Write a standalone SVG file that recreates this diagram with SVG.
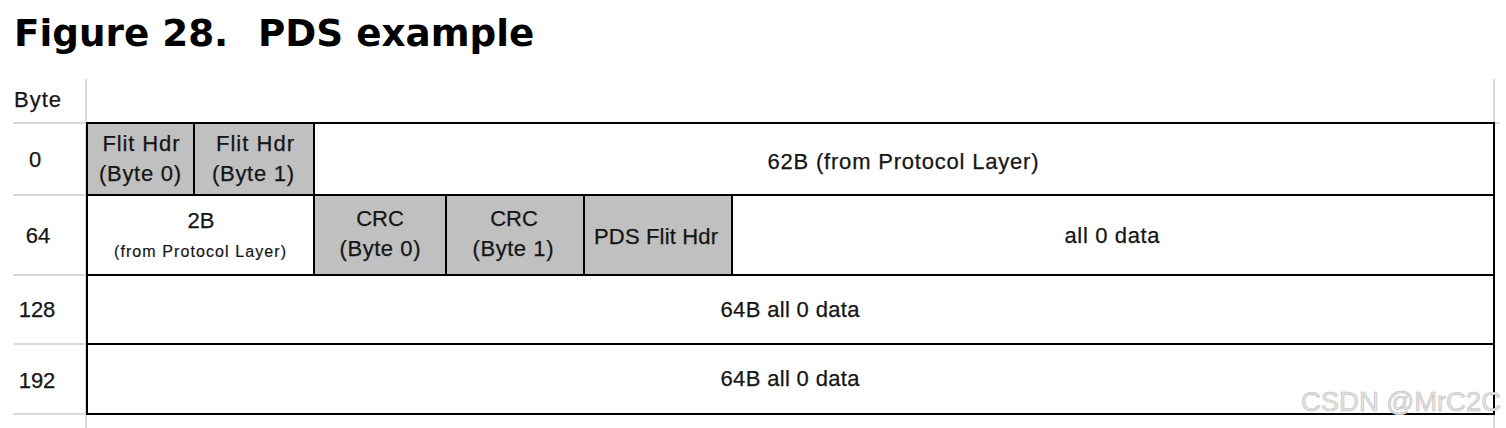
<svg xmlns="http://www.w3.org/2000/svg" width="1506" height="428" viewBox="0 0 1506 428">
<style>
.title{font-family:"DejaVu Sans",Verdana,sans-serif;font-weight:bold;font-size:37.3px;fill:#000}
.t{font-family:"Liberation Sans",Arial,sans-serif;font-size:22px;fill:#151515;stroke:#151515;stroke-width:0.25;text-anchor:middle}
.s{font-family:"Liberation Sans",Arial,sans-serif;font-size:16px;fill:#151515;stroke:#151515;stroke-width:0.2;text-anchor:middle}
.lbl{font-family:"Liberation Sans",Arial,sans-serif;font-size:22px;fill:#151515;stroke:#151515;stroke-width:0.25}
.guide{stroke:#d9d9d9;stroke-width:2;fill:none}
.cell{stroke:#000;stroke-width:2}
.g{fill:#c0c0c0}
.w{fill:#fff}
.wm{font-family:"Liberation Sans",Arial,sans-serif;font-size:27.5px;fill:#e4e4e4;stroke:#bcbcbc;stroke-width:0.6}
</style>
<rect width="1506" height="428" fill="#fff"/>
<text class="title" x="14" y="46">Figure 28.</text>
<text class="title" x="258" y="46">PDS example</text>

<g id="guides">
<path class="guide" d="M86 79V428M1494 79V123M1494 414V428M13 123H86M13 195H86M13 275H86M13 344H86M13 414H86M1494 123H1500"/>
</g>

<g id="labels">
<text class="lbl" x="14" y="107" textLength="47">Byte</text>
<text class="lbl" x="35" y="167" text-anchor="middle">0</text>
<text class="lbl" x="38" y="243" text-anchor="middle">64</text>
<text class="lbl" x="37" y="317" text-anchor="middle">128</text>
<text class="lbl" x="37" y="388" text-anchor="middle">192</text>
</g>

<g id="flit-hdr-0">
<rect class="cell g" x="87" y="123" width="107" height="72"/>
<text class="t" x="141" y="151" textLength="77">Flit Hdr</text>
<text class="t" x="140" y="181" textLength="82">(Byte 0)</text>
</g>
<g id="flit-hdr-1">
<rect class="cell g" x="194" y="123" width="120" height="72"/>
<text class="t" x="255" y="151" textLength="78">Flit Hdr</text>
<text class="t" x="253" y="181" textLength="82">(Byte 1)</text>
</g>
<g id="protocol-62b">
<rect class="cell w" x="314" y="123" width="1180" height="72"/>
<text class="t" x="903" y="169" textLength="271">62B (from Protocol Layer)</text>
</g>

<g id="protocol-2b">
<rect class="cell w" x="87" y="195" width="227" height="80"/>
<text class="t" x="201" y="228">2B</text>
<text class="s" x="200" y="257" textLength="172">(from Protocol Layer)</text>
</g>
<g id="crc-0">
<rect class="cell g" x="314" y="195" width="132" height="80"/>
<text class="t" x="380" y="226">CRC</text>
<text class="t" x="380" y="256" textLength="81">(Byte 0)</text>
</g>
<g id="crc-1">
<rect class="cell g" x="446" y="195" width="138" height="80"/>
<text class="t" x="514" y="226">CRC</text>
<text class="t" x="513" y="256" textLength="81">(Byte 1)</text>
</g>
<g id="pds-flit-hdr">
<rect class="cell g" x="584" y="195" width="148" height="80"/>
<text class="t" x="656" y="244" textLength="124">PDS Flit Hdr</text>
</g>
<g id="all-0-data">
<rect class="cell w" x="732" y="195" width="762" height="80"/>
<text class="t" x="1112" y="243" textLength="95">all 0 data</text>
</g>

<g id="row-128">
<rect class="cell w" x="87" y="275" width="1407" height="69"/>
<text class="t" x="790" y="317" textLength="139">64B all 0 data</text>
</g>
<g id="row-192">
<rect class="cell w" x="87" y="344" width="1407" height="70"/>
<text class="t" x="790" y="386" textLength="139">64B all 0 data</text>
</g>

<text class="wm" x="1301" y="411" textLength="200">CSDN @MrC2C</text>
</svg>
